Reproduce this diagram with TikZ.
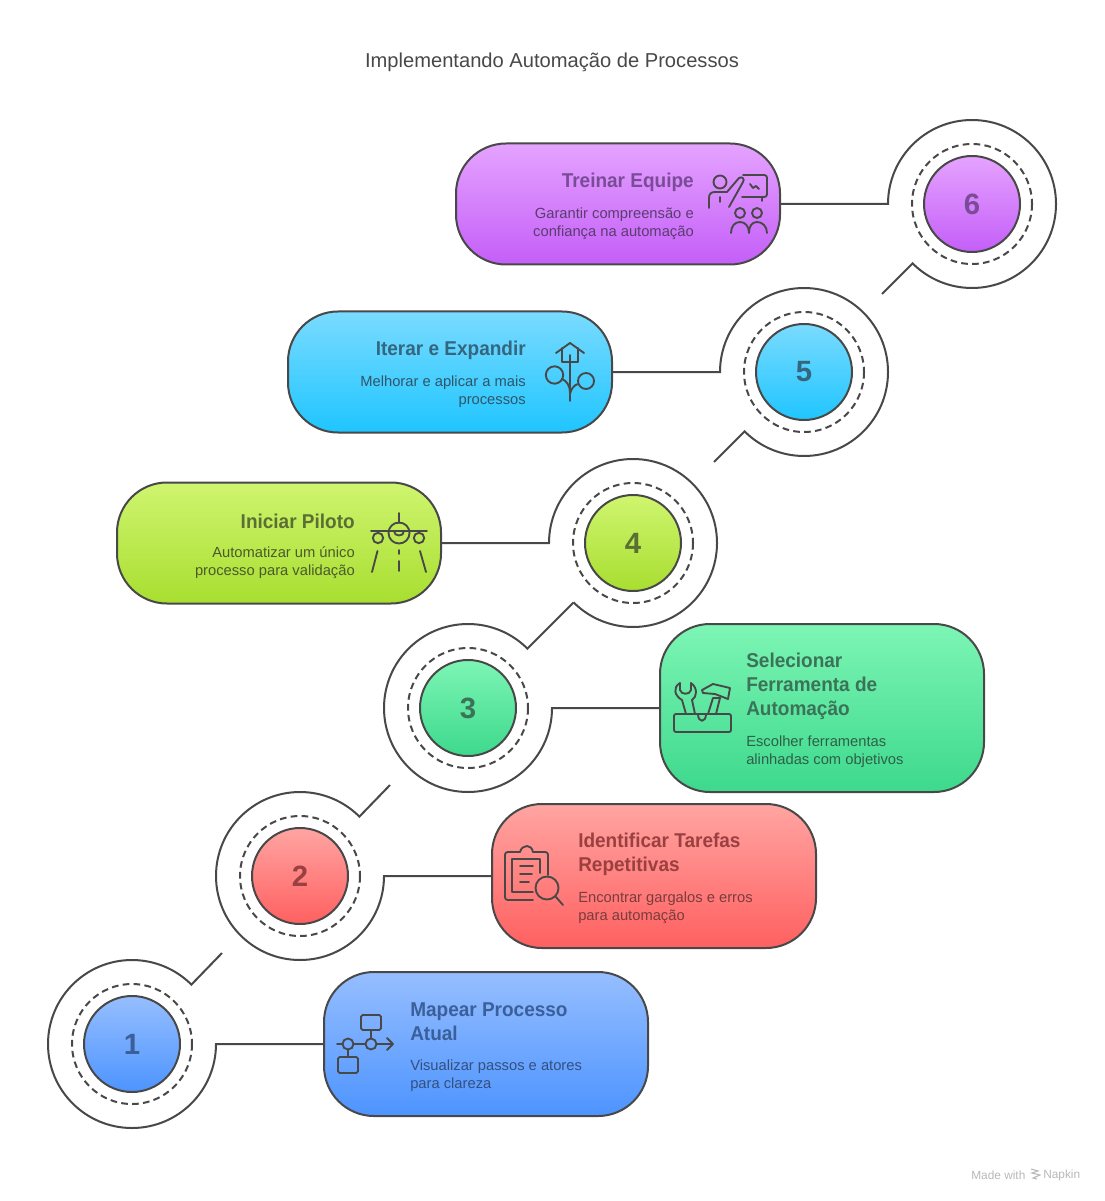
\documentclass[tikz,border=0pt]{standalone}
\usepackage{fontspec}
\setmainfont{Liberation Sans}
\newfontfamily\ttlfont[FakeStretch=0.95]{Liberation Sans}
\usetikzlibrary{calc}
\definecolor{ink}{HTML}{484848}
\definecolor{a1}{HTML}{96BEFF}\definecolor{b1}{HTML}{4D94FF}\definecolor{t1}{HTML}{3B5F99}\definecolor{u1}{HTML}{33507F}
\definecolor{a2}{HTML}{FFA5A2}\definecolor{b2}{HTML}{FF6060}\definecolor{t2}{HTML}{9B4040}\definecolor{u2}{HTML}{7A3C3C}
\definecolor{a3}{HTML}{7DF5B5}\definecolor{b3}{HTML}{3DD98C}\definecolor{t3}{HTML}{3A7358}\definecolor{u3}{HTML}{2F5F48}
\definecolor{a4}{HTML}{CFF56F}\definecolor{b4}{HTML}{A8DE30}\definecolor{t4}{HTML}{5B6F35}\definecolor{u4}{HTML}{4C5A2D}
\definecolor{a5}{HTML}{7ADBFF}\definecolor{b5}{HTML}{1FC5FF}\definecolor{t5}{HTML}{35667F}\definecolor{u5}{HTML}{2F5668}
\definecolor{a6}{HTML}{E5A3FF}\definecolor{b6}{HTML}{C45EF8}\definecolor{t6}{HTML}{7A4B96}\definecolor{u6}{HTML}{5A3D6E}
\tikzset{
  x=0.75pt,y=-0.75pt,
  conn/.style={draw=ink,line width=1.5pt},
  dashring/.style={draw=ink,line width=1.5pt,dash pattern=on 5pt off 3.2pt},
  icon/.style={draw=ink,line width=1.4pt,line cap=round,line join=round},
  box/.style n args={4}{draw=ink,line width=1.5pt,rounded corners=37.5pt,inner sep=0pt,
     minimum width=243pt,minimum height=#1*0.75pt,top color=#2,bottom color=#3,middle color=#4},
  disc/.style n args={4}{circle,draw=ink,line width=1.5pt,inner sep=0pt,minimum size=72pt,
     top color=#1,bottom color=#2,middle color=#3,text=#4,font=\fontsize{22}{24}\selectfont\bfseries},
  ttl/.style={inner sep=0pt,font=\ttlfont\fontsize{15}{18}\selectfont\bfseries},
  bod/.style={inner sep=0pt,font=\fontsize{11.05}{13.5}\selectfont},
}
\begin{document}
\begin{tikzpicture}
\useasboundingbox (0,0) rectangle (1104,1201);
\node[inner sep=0pt,text=ink,font=\fontsize{15.1}{18}\selectfont] (title) at (552,62) {Implementando Automação de Processos};

% boxes
\node[box={144}{a1}{b1}{a1!50!b1}] (box1) at (486,1044) {};
\node[box={144}{a2}{b2}{a2!50!b2}] (box2) at (654,876) {};
\node[box={168}{a3}{b3}{a3!50!b3}] (box3) at (822,708) {};
\node[box={121}{a4}{b4}{a4!50!b4}] (box4) at (279,543) {};
\node[box={121}{a5}{b5}{a5!50!b5}] (box5) at (450,372) {};
\node[box={121}{a6}{b6}{a6!50!b6}] (box6) at (618,204) {};

% discs
\node[disc={a1}{b1}{a1!50!b1}{t1}] (c1) at (132,1044) {1};
\node[disc={a2}{b2}{a2!50!b2}{t2}] (c2) at (300,876) {2};
\node[disc={a3}{b3}{a3!50!b3}{t3}] (c3) at (468,708) {3};
\node[disc={a4}{b4}{a4!50!b4}{t4}] (c4) at (633,543) {4};
\node[disc={a5}{b5}{a5!50!b5}{t5}] (c5) at (804,372) {5};
\node[disc={a6}{b6}{a6!50!b6}{t6}] (c6) at (972,204) {6};
\foreach \c in {c1,c2,c3,c4,c5,c6} \draw[dashring] (\c.center) circle[radius=60];

% free ends and joins
\coordinate (f1) at (222,953);
\coordinate (f2) at (390,785);
\coordinate (j3) at ($(c4.center)+(135:84)$);
\coordinate (f5) at (714,462);
\coordinate (f6) at (882,294);

% connectors
\draw[conn] (box1.west) -- ($(c1.center)+(84,0)$) arc[start angle=0,end angle=315,radius=84] -- (f1);
\draw[conn] (box2.west) -- ($(c2.center)+(84,0)$) arc[start angle=0,end angle=315,radius=84] -- (f2);
\draw[conn] (box3.west) -- ($(c3.center)+(84,0)$) arc[start angle=0,end angle=315,radius=84] -- (j3);
\draw[conn] (box4.east) -- ($(c4.center)+(-84,0)$) arc[start angle=180,end angle=495,radius=84];
\draw[conn] (box5.east) -- ($(c5.center)+(-84,0)$) arc[start angle=180,end angle=495,radius=84] -- (f5);
\draw[conn] (box6.east) -- ($(c6.center)+(-84,0)$) arc[start angle=180,end angle=495,radius=84] -- (f6);

% box texts
\node[ttl,text=t1,anchor=west,align=left] (t1n) at (410,1022) {Mapear Processo\\Atual};
\node[bod,text=u1,anchor=west,align=left] (b1n) at (410,1076) {Visualizar passos e atores\\para clareza};
\node[ttl,text=t2,anchor=west,align=left] (t2n) at (578,854) {Identificar Tarefas\\Repetitivas};
\node[bod,text=u2,anchor=west,align=left] (b2n) at (578,908) {Encontrar gargalos e erros\\para automação};
\node[ttl,text=t3,anchor=west,align=left] (t3n) at (746,686) {Selecionar\\Ferramenta de\\Automação};
\node[bod,text=u3,anchor=west,align=left] (b3n) at (746,752) {Escolher ferramentas\\alinhadas com objetivos};
\node[ttl,text=t4,anchor=east,align=right] (t4n) at (355,521) {Iniciar Piloto};
\node[bod,text=u4,anchor=east,align=right] (b4n) at (355,563) {Automatizar um único\\processo para validação};
\node[ttl,text=t5,anchor=east,align=right] (t5n) at (526,350) {Iterar e Expandir};
\node[bod,text=u5,anchor=east,align=right] (b5n) at (526,392) {Melhorar e aplicar a mais\\processos};
\node[ttl,text=t6,anchor=east,align=right] (t6n) at (694,182) {Treinar Equipe};
\node[bod,text=u6,anchor=east,align=right] (b6n) at (694,224) {Garantir compreensão e\\confiança na automação};

% icon 1
\draw[icon,rounded corners=1.2pt] (361,1015) rectangle (381,1030);
\draw[icon,rounded corners=1.2pt] (338,1057) rectangle (358,1073);
\draw[icon] (371,1044) circle[radius=5.5] (348,1044) circle[radius=5.5];
\draw[icon] (371,1030)--(371,1038.5) (348,1049.5)--(348,1057) (337,1044)--(342.5,1044) (353.5,1044)--(365.5,1044) (376.5,1044)--(393,1044) (387,1038)--(393,1044)--(387,1050);

% icon 2
\draw[icon,rounded corners=2pt] (520,852)--(505,852)--(505,900)--(533,900);
\draw[icon,rounded corners=2pt] (533,852)--(548,852)--(548,875);
\draw[icon] (520,852) .. controls (521,848) and (524,846) .. (527,846) .. controls (530,846) and (532,848) .. (533,852);
\draw[icon] (540,873)--(540,859)--(512,859)--(512,892)--(533,892);
\draw[icon] (520,866)--(533,866) (520,874)--(532,874) (520,882)--(529,882);
\draw[icon] (547,888) circle[radius=11.5] (555.5,896.5)--(563,905);

% icon 3
\draw[icon,rounded corners=1.5pt] (674,714) rectangle (731,732);
\draw[icon] (698,714) .. controls (698,723) and (706,723) .. (706,714);
\draw[icon] (686,714)--(682,700) .. controls (675,696) and (672,688) .. (680,683)--(680,690) .. controls (681,695) and (690,695) .. (691,690)--(691,683) .. controls (698,688) and (697,697) .. (692,700)--(695,714);
\draw[icon] (708,714)--(713,698)--(720,698)--(716,714);
\draw[icon] (702,690)--(713,684)--(730,688)--(728,699)--(715,694)--(703,693)--cycle;

% icon 4
\draw[icon] (399,533) circle[radius=10.5] (378,538) circle[radius=5.2] (419,538) circle[radius=5.2];
\draw[icon] (399,513)--(399,523) (371,531)--(427,531);
\draw[icon] (394,531) .. controls (394,537) and (404,537) .. (404,531);
\draw[icon] (377.5,551)--(372,572) (420,551)--(426,572) (399,550)--(399,554) (399,561)--(399,571);

% icon 5
\draw[icon] (556,353)--(570,343)--(584,353) (562,348)--(562,362)--(578,362)--(578,348);
\draw[icon] (570,355)--(570,401);
\draw[icon] (554.5,375) circle[radius=8.7] (586,381) circle[radius=8];
\draw[icon] (562,379) .. controls (567,381) and (570,386) .. (570,393);
\draw[icon] (578,384) .. controls (574,385) and (571,389) .. (570,394);

% icon 6
\draw[icon] (720,182) circle[radius=6.5];
\draw[icon,rounded corners=2pt] (743,175)--(767,175)--(767,197)--(742,197);
\draw[icon] (762,197)--(762,201) (750,184)--(753,188)--(756,186)--(759,189);
\draw[icon] (709,208)--(709,198) .. controls (709,194) and (711,192) .. (715,192)--(727,192)--(739,178) .. controls (742,176) and (745,179) .. (743,182)--(729,207);
\draw[icon] (720,197)--(720,202);
\draw[icon] (740,213) circle[radius=5] (757,213) circle[radius=5];
\draw[icon] (731,233) .. controls (731,226) and (735,222) .. (740,222) .. controls (745,222) and (749,226) .. (749,233) .. controls (749,226) and (752,222) .. (757,222) .. controls (762,222) and (767,226) .. (767,233);

% watermark
\node[inner sep=0pt,anchor=west,text=black!28,font=\fontsize{8.9}{10}\selectfont] (mw) at (971,1175) {Made with};
\node[inner sep=0pt,anchor=west,text=black!28,font=\fontsize{8.9}{10}\selectfont] (nk) at (1043,1175) {Napkin};
\draw[draw=black!28,line width=0.8pt] (1031,1169)--(1038,1171)--(1032,1173)--(1040,1175)--(1033,1178)--(1037,1179);
\end{tikzpicture}
\end{document}
